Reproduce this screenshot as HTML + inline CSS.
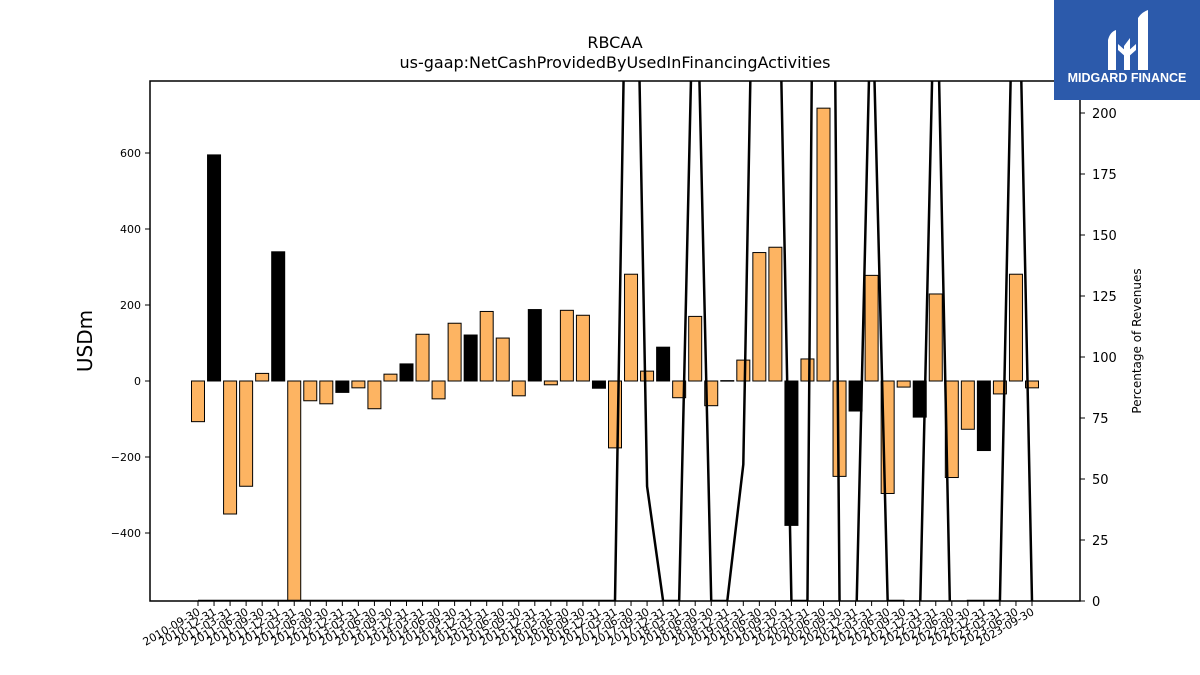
<!DOCTYPE html>
<html><head><meta charset="utf-8"><style>
body{margin:0;background:#fff;}
svg{display:block;font-family:"DejaVu Sans","Liberation Sans",sans-serif;}
</style></head><body>
<svg id="chart" width="1200" height="675" xmlns="http://www.w3.org/2000/svg">
<text x="615" y="48" text-anchor="middle" font-size="16">RBCAA</text>
<text x="615" y="68" text-anchor="middle" font-size="16">us-gaap:NetCashProvidedByUsedInFinancingActivities</text>
<text transform="translate(92,341) rotate(-90)" text-anchor="middle" font-size="20">USDm</text>
<text transform="translate(1141,341) rotate(-90)" text-anchor="middle" font-size="12">Percentage of Revenues</text>
<g id="bars"></g>
<g id="line"></g>
<g id="axes"></g>
<g>
<rect x="1054" y="0" width="146" height="100" fill="#2c5aab"/>
<path d="M1108 70 L1108 40 Q1110 32 1116 30 L1116 70 Z M1124 70 L1124 46 L1130 38 L1130 70 Z M1138 70 L1138 18 Q1142 12 1148 10 L1148 70 Z M1118 44 L1127 52 L1136 44 L1136 50 L1127 58 L1118 50Z" fill="#fff"/>
<text x="1127" y="82" text-anchor="middle" font-size="12.5" font-weight="bold" fill="#fff" font-family="Liberation Sans, sans-serif">MIDGARD FINANCE</text>
</g>
</svg>
<script>
const categories = [];
(function(){let y=2010,m=9;for(let i=0;i<53;i++){const d={3:'31',6:'30',9:'30',12:'31'}[m];categories.push(y+'-'+String(m).padStart(2,'0')+'-'+d);m+=3;if(m>12){m=3;y++;}}})();
const barValues = [-107,595,-350,-277,20,340,-600,-52,-60,-30,-18,-73,18,45,123,-47,152,121,183,113,-39,188,-10,186,173,-19,-176,281,26,89,-44,170,-65,1,55,338,352,-380,58,718,-251,-79,278,-296,-16,-95,229,-254,-127,-183,-34,281,-18];
const pctValues = [0,0,0,0,0,0,0,0,0,0,0,0,0,0,0,0,0,0,0,0,0,0,0,0,0,0,0,400,47,0,0,290,0,0,56,415,340,0,0,800,0,-20,260,0,0,-10,280,-40,0,0,0,320,0];
const leftTicks = [-400,-200,0,200,400,600];
const rightTicks = [0,25,50,75,100,125,150,175,200];

const NS='http://www.w3.org/2000/svg';
const L=150,R=1080,T=81,B=601;
const yL=v=>381-v*0.38;
const yR=v=>601-v*2.44;
const xB=i=>198+i*(1032-198)/52;
function mk(tag,attrs,parent){const e=document.createElementNS(NS,tag);for(const k in attrs)e.setAttribute(k,attrs[k]);parent.appendChild(e);return e;}
const svg=document.getElementById('chart');
const defs=mk('defs',{},svg);
const cp=mk('clipPath',{id:'plotclip'},defs);
mk('rect',{x:L,y:T,width:R-L,height:B-T},cp);
const gb=document.getElementById('bars');gb.setAttribute('clip-path','url(#plotclip)');
barValues.forEach((v,i)=>{
  const y0=yL(0),y1=yL(v);
  const r=mk('rect',{x:xB(i)-6.5,y:Math.min(y0,y1),width:13,height:Math.max(Math.abs(y1-y0),0.5),fill:(i%4===1)?'#000':'#fdb462',stroke:'#000','stroke-width':1},gb);
  
  
});
const gl=document.getElementById('line');gl.setAttribute('clip-path','url(#plotclip)');
const pl=mk('polyline',{points:pctValues.map((v,i)=>xB(i)+','+yR(v)).join(' '),fill:'none',stroke:'#000','stroke-width':2.5},gl);


const ga=document.getElementById('axes');
const fr=mk('rect',{x:L,y:T,width:R-L,height:B-T,fill:'none',stroke:'#000','stroke-width':1.5},ga);


leftTicks.forEach(v=>{
  mk('line',{x1:L-5,x2:L,y1:yL(v),y2:yL(v),stroke:'#000'},ga);
  const t=mk('text',{x:L-9,y:yL(v)+4,'text-anchor':'end','font-size':11},ga);
  t.textContent=v<0?'\u2212'+(-v):v;
  
  
});
rightTicks.forEach(v=>{
  mk('line',{x1:R,x2:R+5,y1:yR(v),y2:yR(v),stroke:'#000'},ga);
  const t=mk('text',{x:R+12,y:yR(v)+5,'font-size':13},ga);
  t.textContent=v;
  
  
});
categories.forEach((c,i)=>{
  const x=xB(i);
  mk('line',{x1:x,x2:x,y1:B,y2:B+5,stroke:'#000'},ga);
  const t=mk('text',{transform:'translate('+(x+3)+','+(B+13)+') rotate(-30)','text-anchor':'end','font-size':11},ga);
  t.textContent=c;
  
  
});
</script>
</body></html>
